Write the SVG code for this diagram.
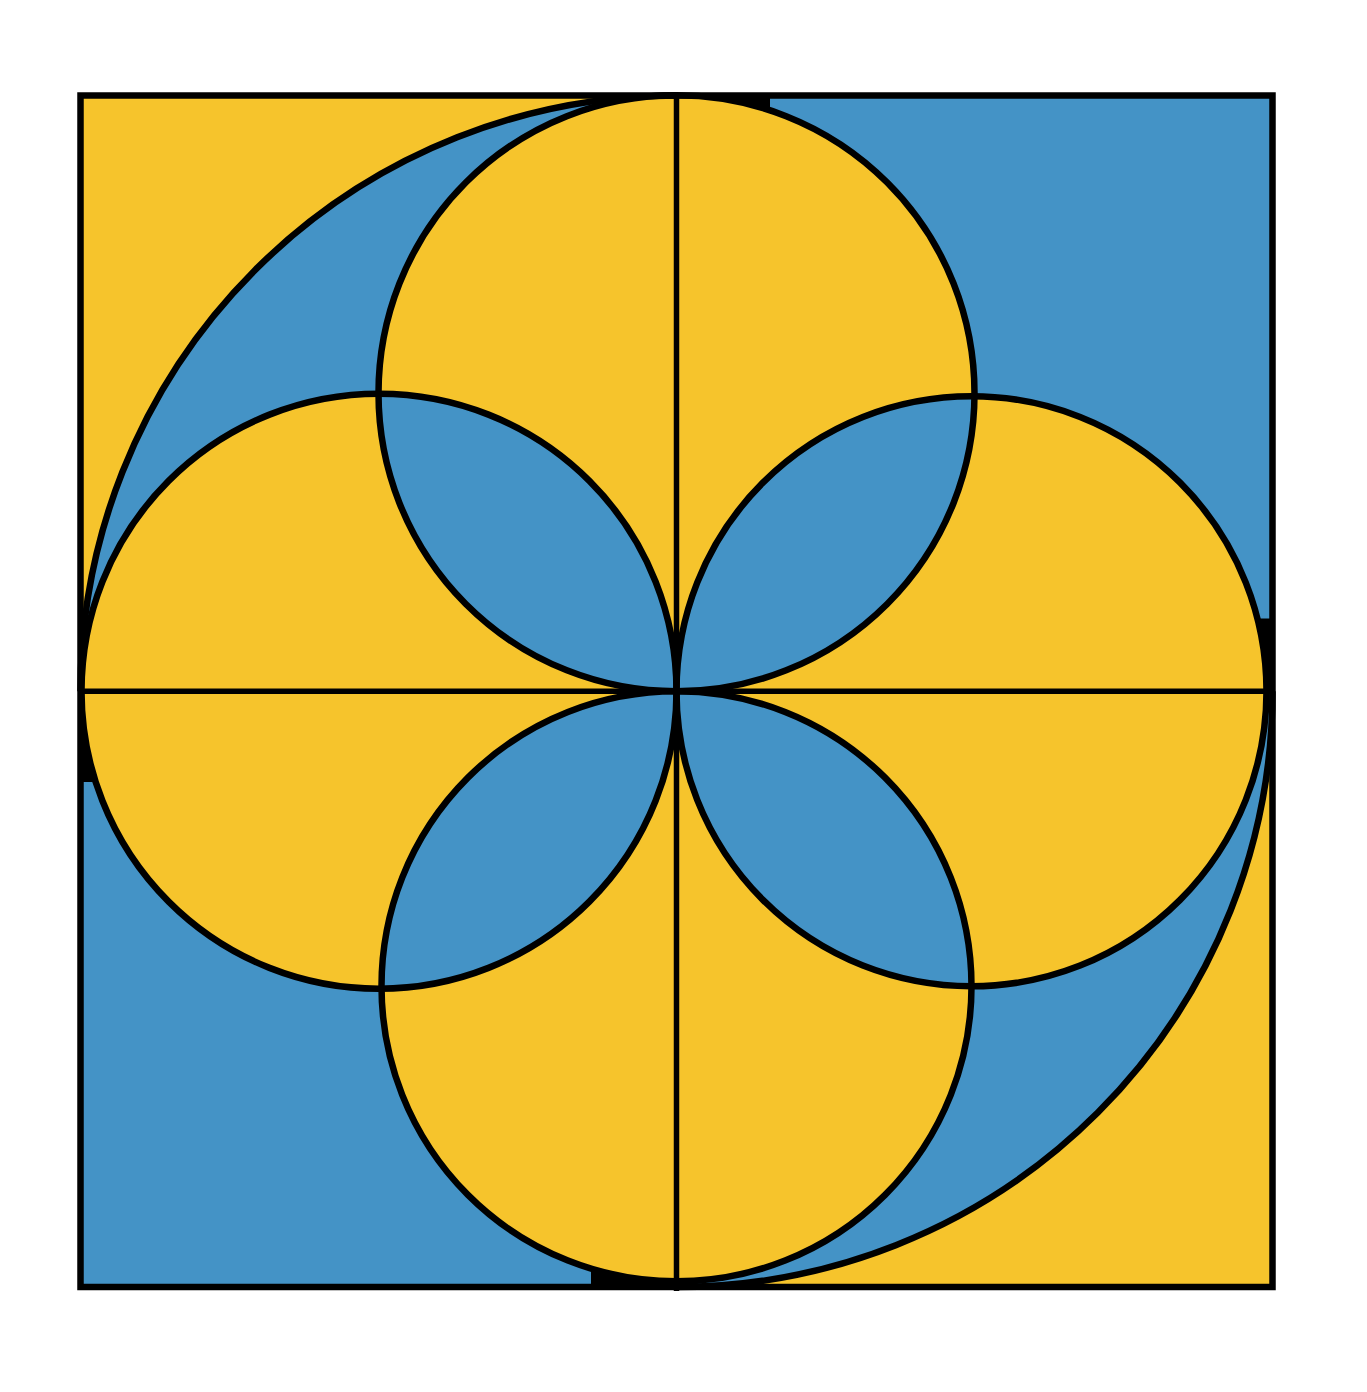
<svg xmlns="http://www.w3.org/2000/svg" width="1367" height="1392" viewBox="0 0 1367 1392">
<style>
.y{fill:#F6C42C}
.b{fill:#4493C6}
.s{fill:none;stroke:#000;stroke-width:6.5}
.l{fill:none;stroke:#000;stroke-width:5.5}
</style>
<defs>
<clipPath id="k1"><circle cx="676.5" cy="393.25" r="298"/></clipPath>
<clipPath id="k4"><circle cx="676.5" cy="986.25" r="295"/></clipPath>
</defs>
<rect x="0" y="0" width="1367" height="1392" fill="#fff"/>
<g id="background">
<rect x="80.5" y="95.5" width="1192" height="1191.5" fill="#000"/>
<rect class="y" x="80.5" y="95.5" width="596" height="596"/>
<rect class="b" x="770" y="95.5" width="502.5" height="523"/>
<rect class="b" x="80.5" y="782" width="510.5" height="505"/>
<rect class="y" x="676.5" y="691.25" width="596" height="595.75"/>
<path class="b" d="M80.5 691.25 A596 596 0 0 1 676.5 95.5 L676.5 691.25 Z"/>
<path class="b" d="M1272.5 691.25 A596 596 0 0 1 676.5 1287 L676.5 691.25 Z"/>
</g>
<g id="circles">
<circle id="top-circle" class="y" cx="676.5" cy="393.25" r="298"/>
<circle id="left-circle" class="y" cx="379" cy="691.25" r="297.5"/>
<circle id="right-circle" class="y" cx="971.5" cy="691.25" r="295"/>
<circle id="bottom-circle" class="y" cx="676.5" cy="986.25" r="295"/>
</g>
<g id="lenses">
<circle class="b" cx="379" cy="691.25" r="297.5" clip-path="url(#k1)"/>
<circle class="b" cx="971.5" cy="691.25" r="295" clip-path="url(#k1)"/>
<circle class="b" cx="379" cy="691.25" r="297.5" clip-path="url(#k4)"/>
<circle class="b" cx="971.5" cy="691.25" r="295" clip-path="url(#k4)"/>
</g>
<g id="connectors">
<circle class="s" cx="676.5" cy="393.25" r="298"/>
<circle class="s" cx="379" cy="691.25" r="297.5"/>
<circle class="s" cx="971.5" cy="691.25" r="295"/>
<circle class="s" cx="676.5" cy="986.25" r="295"/>
<path class="s" d="M80.5 691.25 A596 596 0 0 1 676.5 95.5"/>
<path class="s" d="M1272.5 691.25 A596 596 0 0 1 676.5 1287"/>
<line class="l" x1="676.5" y1="95.5" x2="676.5" y2="1291"/>
<line class="l" x1="80.5" y1="691.25" x2="1272.5" y2="691.25"/>
<rect class="s" x="80.5" y="95.5" width="1192" height="1191.5"/>
</g>
</svg>
